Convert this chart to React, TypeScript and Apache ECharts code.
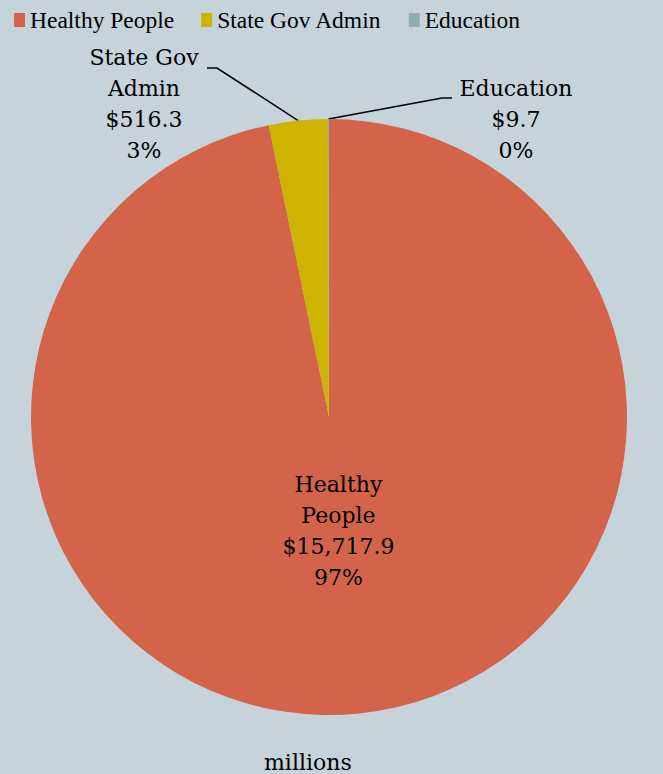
import React, { useEffect, useRef } from "react";
import * as echarts from "echarts";

const categories = ["Healthy People", "State Gov Admin", "Education"];
const labelNames = ["Healthy\nPeople", "State Gov\nAdmin", "Education"];
const values = [15717.9, 516.3, 9.7];
const colors = ["#d3644a", "#cdb400", "#8eadb0"];
const unitLabel = "millions";

const CX = 329;
const CY = 417;
const R = 298;

export default function App() {
  const ref = useRef<HTMLDivElement>(null);
  useEffect(() => {
    document.body.style.margin = "0";
    const chart = echarts.init(ref.current!, null, { renderer: "svg" });
    const fmt = (v: number) =>
      "$" + v.toLocaleString("en-US", { minimumFractionDigits: 1, maximumFractionDigits: 1 });
    chart.setOption({
      animation: false,
      backgroundColor: "#c6d3da",
      color: colors,
      title: {
        text: unitLabel,
        left: 259,
        top: 746,
        textStyle: { fontFamily: "DejaVu Serif", fontSize: 22, fontWeight: "normal", color: "#000" },
      },
      legend: {
        data: categories,
        selectedMode: false,
        icon: "rect",
        itemWidth: 11,
        itemHeight: 14,
        itemGap: 27,
        left: 9,
        top: 3,
        textStyle: { fontFamily: "Liberation Serif", fontSize: 23.5, color: "#000" },
      },
      series: [
        {
          type: "pie",
          center: [CX, CY],
          radius: R,
          startAngle: 90,
          clockwise: true,
          avoidLabelOverlap: false,
          itemStyle: { borderWidth: 0 },
          label: {
            show: true,
            fontFamily: "DejaVu Serif",
            fontSize: 22,
            lineHeight: 31,
            color: "#000",
            align: "center",
            formatter: (p: any) =>
              labelNames[p.dataIndex] + "\n" + fmt(p.value) + "\n" + Math.round(p.percent) + "%",
          },
          labelLine: { show: true, lineStyle: { color: "#000", width: 1.5 }, length: 20, length2: 10 },
          labelLayout: (p: any) => {
            const i = p.dataIndex;
            if (i === 0) return { dx: -6, dy: -37 };
            const start = p.labelLinePoints ? p.labelLinePoints[0] : [CX, CY - R];
            if (i === 1) {
              return {
                x: CX - 185,
                y: CY - 313,
                align: "center",
                verticalAlign: "middle",
                labelLinePoints: [start, [CX - 112, CY - 349], [CX - 122, CY - 349]],
              };
            }
            return {
              x: CX + 187,
              y: CY - 298,
              align: "center",
              verticalAlign: "middle",
              labelLinePoints: [start, [CX + 113, CY - 319], [CX + 123, CY - 319]],
            };
          },
          data: categories.map((name, i) => ({
            name,
            value: values[i],
            label: i === 0 ? { position: "inside" } : { position: "outside", alignTo: "none" },
            labelLine: { show: i !== 0 },
          })),
        },
      ],
    });
    return () => chart.dispose();
  }, []);
  return <div ref={ref} style={{ width: 663, height: 774, position: "absolute", left: 0, top: 0 }} />;
}
